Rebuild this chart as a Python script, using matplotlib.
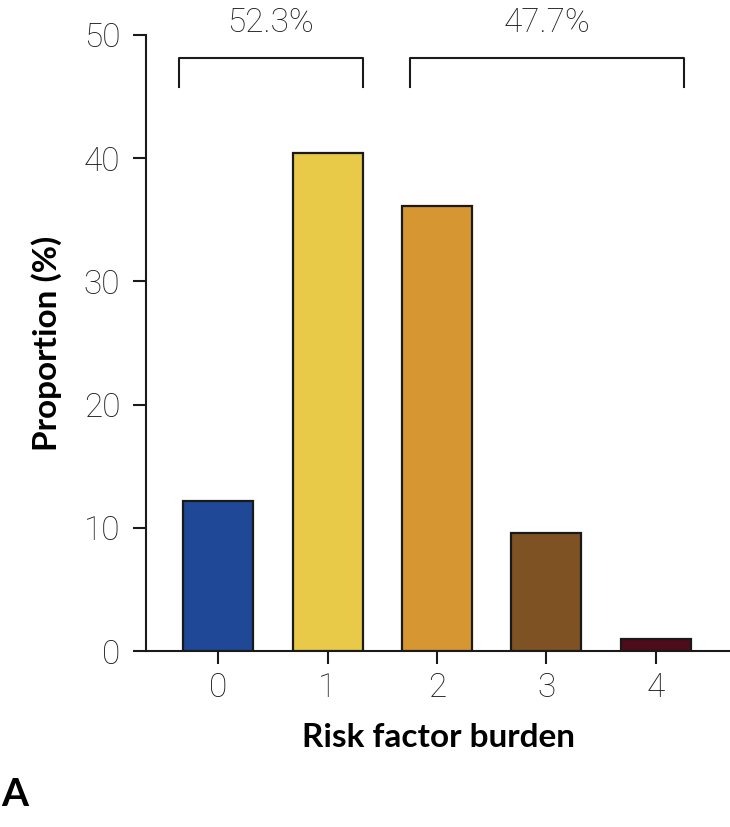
import matplotlib.pyplot as plt

# Data
burden = [0, 1, 2, 3, 4]
proportion = [12.2, 40.4, 36.1, 9.6, 1.0]
bar_colors = ['#1f4896', '#e8c948', '#d69632', '#7f5224', '#4e0b19']
group_labels = ['52.3%', '47.7%']
group_spans = [(-0.36, 1.32), (1.75, 4.26)]

plt.rcParams['font.family'] = ['Lato', 'DejaVu Sans']
thin = dict(family=['Roboto', 'DejaVu Sans'], weight='light')

fig = plt.figure(figsize=(7.3, 8.27), dpi=100)
ax = fig.add_axes([0.2, 0.2128, 0.8, 0.7449])

ax.bar(burden, proportion, width=0.64, color=bar_colors,
       edgecolor='#1a1a1a', linewidth=1.6, zorder=3)

ax.set_xlim(-0.66, 4.68)
ax.set_ylim(0, 50)
ax.set_yticks([0, 10, 20, 30, 40, 50])
ax.set_xticks(burden)

for side in ['top', 'right']:
    ax.spines[side].set_visible(False)
for side in ['left', 'bottom']:
    ax.spines[side].set_linewidth(1.5)
    ax.spines[side].set_color('#1a1a1a')

ax.tick_params(axis='y', direction='out', length=9.5, width=1.5,
               labelsize=24, pad=9, colors='#1a1a1a')
ax.tick_params(axis='x', direction='out', length=9, width=1.5,
               labelsize=24, pad=6, colors='#1a1a1a')
for lab in ax.get_xticklabels() + ax.get_yticklabels():
    lab.set_fontfamily(thin['family'])
    lab.set_fontweight(thin['weight'])

ax.set_xlabel('Risk factor burden', fontsize=24, fontweight='bold', labelpad=14)
ax.set_ylabel('Proportion (%)', fontsize=24, fontweight='bold', labelpad=16)

# Brackets with group percentages
for (x0, x1), txt in zip(group_spans, group_labels):
    ax.plot([x0, x0, x1, x1], [45.8, 48.1, 48.1, 45.8], color='#1a1a1a',
            linewidth=1.5, clip_on=False)
    ax.text((x0 + x1) / 2, 50.24, txt, ha='center', va='baseline', fontsize=24,
            color='#1a1a1a', clip_on=False, **thin)

fig.text(0.002, 0.018, 'A', fontsize=28, fontweight='bold', ha='left', va='bottom')

fig.savefig('out.png', dpi=100)
